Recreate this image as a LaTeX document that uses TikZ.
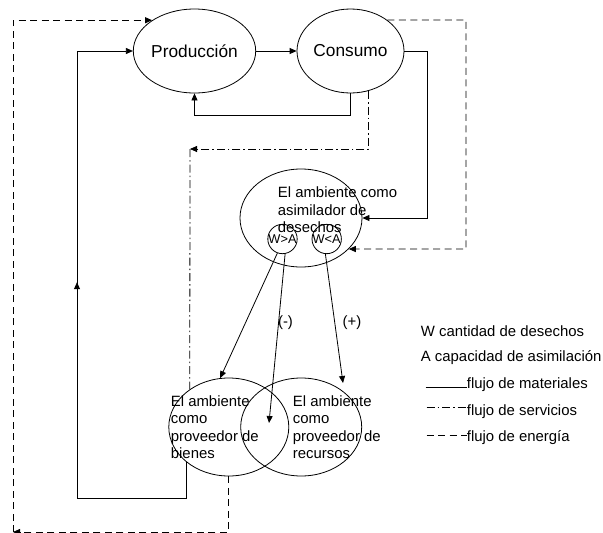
\documentclass[tikz,border=0pt]{standalone}
\usepackage{fontspec}
\setsansfont{Liberation Sans}
\usetikzlibrary{arrows.meta,shapes,calc,decorations.markings}
\tikzset{every picture/.style={/utils/exec={\sffamily}}}
\tikzset{blob/.style={draw,ellipse,inner sep=0pt,minimum width=107pt,minimum height=84pt,font=\fontsize{17.3}{20}\selectfont}}
\tikzset{env/.style={draw,ellipse,inner sep=0pt,minimum width=120pt,minimum height=98pt}}
\tikzset{ring/.style={draw,circle,inner sep=0pt,minimum size=28.5pt,font=\fontsize{12.8}{14}\selectfont}}
\tikzset{txt/.style={inner sep=0pt,align=left,font=\fontsize{14.9}{17.4}\selectfont}}
\tikzset{head/.style={-{Triangle[length=7pt,width=6pt]}}}
\tikzset{energy/.style={dash pattern=on 7pt off 4.5pt}}
\tikzset{service/.style={dash pattern=on 8pt off 3pt on 1.5pt off 3pt}}

\begin{document}
\begin{tikzpicture}[x=1pt,y=-1pt,line width=0.8pt]
    \useasboundingbox (0,0) rectangle (603,533);
    \node [blob] (prod) at (194.5,51) {Producción};
    \node [blob] (cons) at (350.5,51) {Consumo};
    \node [env,minimum width=122pt] (asim) at (301,218) {};
    \node [env] (bienes) at (228.8,427) {};
    \node [env,minimum width=121pt] (recursos) at (301.2,427) {};
    \node [txt,anchor=north west] (asimtxt) at (277.5,186.5) {El ambiente como\\asimilador de\\desechos};
    \node [txt,anchor=north west] (bientxt) at (170.5,395) {El ambiente\\como\\proveedor de\\bienes};
    \node [txt,anchor=north west] (recutxt) at (292.5,395) {El ambiente\\como\\proveedor de\\recursos};
    \node [ring] (wa) at (282.5,239) {W>A};
    \node [ring] (wb) at (326.7,239) {W<A};
    \node [txt] (minus) at (285.5,323) {(-)};
    \node [txt] (plus) at (352,323) {(+)};
    \coordinate (mid) at (269,423);
    \coordinate (rtop) at (343,383);
    \coordinate (srvcorner) at (190,149);
    \coordinate (bl) at (13,532);
    \draw [head] (prod) -- (cons);
    \draw [head] (cons.south) -- ++(0,22) -| (prod.south);
    \draw [head] (cons.east) -- ++(23,0) |- (asim.east);
    \draw [head,postaction={decorate},decoration={markings,mark=at position 0.557 with {\arrow{Triangle[length=7pt,width=6pt]}}}] (bienes.south west) |- (77,498) |- (prod.west);
    \draw [service,head] (cons.-66) |- (srvcorner);
    \draw [service] (srvcorner) -- (bienes.136);
    \draw [energy,head] (cons.40) -| (466,249) -- (asim.-33);
    \draw [energy,head] (bienes.south) |- (bl);
    \draw [energy,head] (bl) |- (prod.144);
    \draw [head] (wa.-110) -- (bienes.100);
    \draw [head] (wa.-80) -- (mid);
    \draw [head] (wb.-95) -- (rtop);
    \node [txt,anchor=base west] (wtxt) at (420.5,336) {W cantidad de desechos};
    \node [txt,anchor=base west] (atxt) at (420.5,361.7) {A capacidad de asimilación};
    \node [txt,anchor=base west] (mattxt) at (466.5,388.3) {flujo de materiales};
    \node [txt,anchor=base west] (srvtxt) at (466.5,415) {flujo de servicios};
    \node [txt,anchor=base west] (enetxt) at (466.5,441.7) {flujo de energía};
    \draw ([xshift=-41pt,yshift=1pt]mattxt.base west) -- ([yshift=1pt]mattxt.base west);
    \draw [service] ([xshift=-40pt,yshift=7.5pt]srvtxt.base west) -- ([yshift=7.5pt]srvtxt.base west);
    \draw [energy] ([xshift=-40pt,yshift=6.5pt]enetxt.base west) -- ([yshift=6.5pt]enetxt.base west);
\end{tikzpicture}
\end{document}
